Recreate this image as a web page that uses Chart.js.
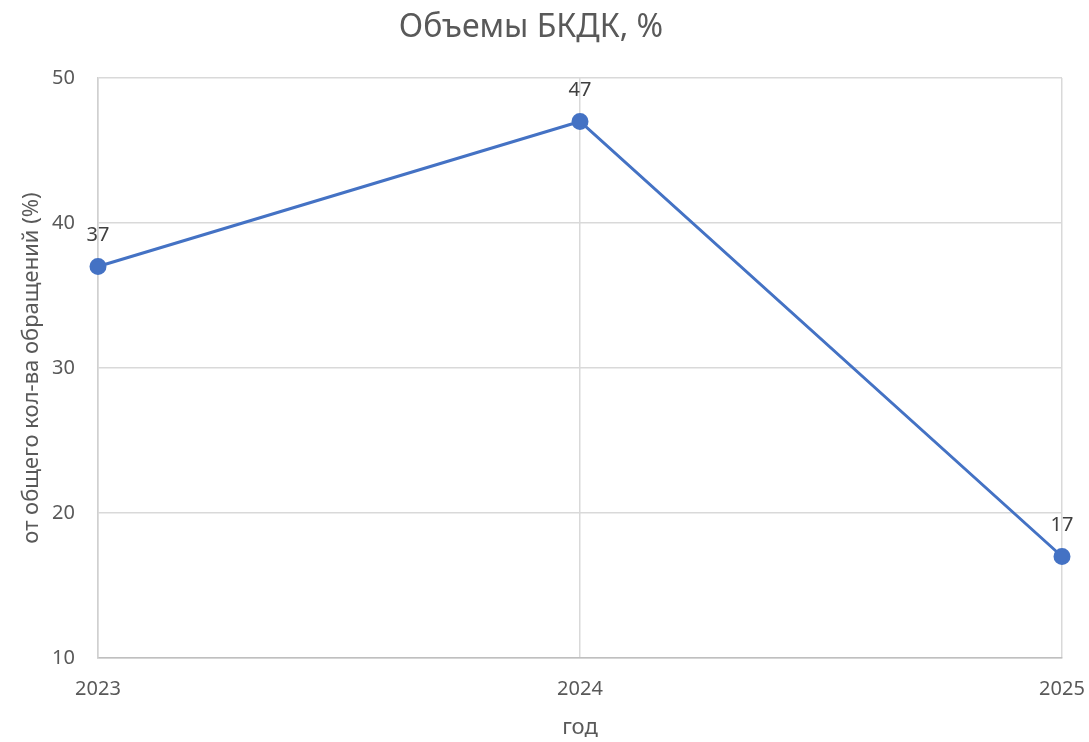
<!DOCTYPE html>
<html>
<head>
<meta charset="utf-8">
<script src="https://cdn.jsdelivr.net/npm/chart.js@4"></script>
<style>
  html, body { margin: 0; padding: 0; background: #fff; }
  #wrap { width: 1089px; height: 742px; }
</style>
</head>
<body>
<div id="wrap"><canvas id="lineChart" width="1089" height="742"></canvas></div>
<script>
/*** Data ***/
const years = ['2023', '2024', '2025'];
const volumes = [37, 47, 17];
const yTicks = [10, 20, 30, 40, 50];

/*** Labels above the points ***/
const pointLabels = {
    id: 'pointLabels',
    afterDatasetsDraw(chart) {
        const ctx = chart.ctx;
        const meta = chart.getDatasetMeta(0);
        ctx.save();
        ctx.font = '20px "Noto Sans"';
        ctx.fillStyle = '#404040';
        ctx.textAlign = 'center';
        ctx.textBaseline = 'middle';
        meta.data.forEach(function (pt, i) {
            ctx.fillText(volumes[i], pt.x, pt.y - 31);
        });
        ctx.restore();
    }
};

Chart.defaults.font.family = '"Noto Sans"';
Chart.defaults.color = '#595959';

new Chart(document.getElementById('lineChart'), {
    type: 'line',
    data: {
        labels: years,
        datasets: [
            {
                label: 'Объемы БКДК',
                data: volumes,
                borderColor: '#4472c4',
                backgroundColor: '#4472c4',
                pointBackgroundColor: '#4472c4',
                pointBorderColor: '#4472c4',
                borderWidth: 3,
                pointRadius: 7,
                tension: 0
            }
        ]
    },
    options: {
        responsive: false,
        animation: false,
        layout: {
            padding: { left: 0, right: 27, top: 0, bottom: 0 }
        },
        plugins: {
            legend: { display: false },
            tooltip: { enabled: false },
            title: {
                display: true,
                text: 'Объемы БКДК, %',
                color: '#595959',
                font: { size: 32, weight: 'normal', lineHeight: 1.2 },
                padding: { top: 9, bottom: 30.6 }
            }
        },
        scales: {
            x: {
                offset: false,
                grid: { color: '#d9d9d9', lineWidth: 1.5, drawTicks: false },
                border: { color: '#bfbfbf', width: 1.5 },
                ticks: { font: { size: 20 }, color: '#595959', padding: 19, maxRotation: 0 },
                title: {
                    display: true,
                    text: 'год',
                    color: '#595959',
                    font: { size: 22 },
                    padding: { top: 0, bottom: 1 }
                },
                afterFit: function (scale) {
                    scale.height = 84;
                    scale.paddingLeft = 0;
                    scale.paddingRight = 0;
                }
            },
            y: {
                min: 10,
                max: 50,
                afterBuildTicks: function (scale) {
                    scale.ticks = yTicks.map(function (v) { return { value: v }; });
                },
                grid: { color: '#d9d9d9', lineWidth: 1.5, drawTicks: false },
                border: { color: '#d0d0d0', width: 1.5 },
                ticks: { font: { size: 20 }, color: '#595959', padding: 23 },
                title: {
                    display: true,
                    text: 'от общего кол-ва обращений (%)',
                    color: '#595959',
                    font: { size: 22 },
                    padding: { top: 19, bottom: 0 }
                },
                afterFit: function (scale) { scale.width = 98; }
            }
        }
    },
    plugins: [pointLabels]
});
</script>
</body>
</html>
